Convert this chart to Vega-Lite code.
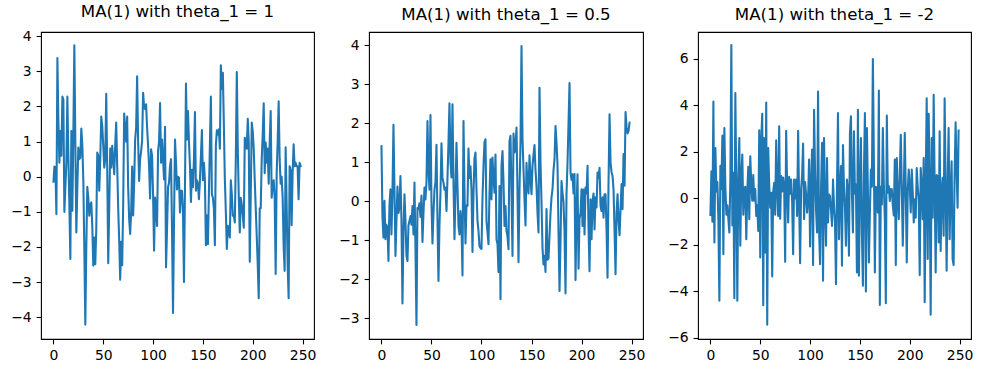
{
"$schema":"https://vega.github.io/schema/vega-lite/v6.json",
"background":"white",
"padding":{"left":10,"top":3,"right":5,"bottom":5},
"config":{
"view":{"stroke":"black","strokeWidth":1.1},
"axis":{"domain":false,"grid":false,"ticks":true,"tickColor":"black","tickSize":4.9,"tickWidth":1.1,"labelFont":"DejaVu Sans","labelFontSize":13.9,"labelColor":"black","labelPadding":4.9,"labelFlush":false,"labelOverlap":false,"title":null},
"title":{"font":"DejaVu Sans","fontSize":16.67,"fontWeight":"normal","color":"black","baseline":"alphabetic","offset":8.3,"anchor":"middle"},
"concat":{"spacing":21}
},
"datasets":{
"p1":[{"t":0,"y":-0.17},{"t":1,"y":0.29},{"t":2,"y":0.26},{"t":3,"y":-1.07},{"t":4,"y":3.38},{"t":5,"y":1.6},{"t":6,"y":0.4},{"t":7,"y":1.3},{"t":8,"y":0.6},{"t":9,"y":2.28},
{"t":10,"y":2.2},{"t":11,"y":-1.0},{"t":12,"y":-0.3},{"t":13,"y":0.4},{"t":14,"y":2.28},{"t":15,"y":0.6},{"t":16,"y":-0.8},{"t":17,"y":-2.34},{"t":18,"y":1.3},{"t":19,"y":-0.97},
{"t":20,"y":1.2},{"t":21,"y":3.74},{"t":22,"y":1.0},{"t":23,"y":-1.59},{"t":24,"y":-0.3},{"t":25,"y":0.83},{"t":26,"y":0.5},{"t":27,"y":0.54},{"t":28,"y":1.37},{"t":29,"y":0.9},
{"t":30,"y":-0.08},{"t":31,"y":-2.0},{"t":32,"y":-4.21},{"t":33,"y":-2.0},{"t":34,"y":-0.29},{"t":35,"y":-0.6},{"t":36,"y":-1.11},{"t":37,"y":-0.8},{"t":38,"y":-0.73},{"t":39,"y":-1.4},
{"t":40,"y":-2.53},{"t":41,"y":-1.73},{"t":42,"y":-2.49},{"t":43,"y":-1.5},{"t":44,"y":0.69},{"t":45,"y":0.6},{"t":46,"y":-0.4},{"t":47,"y":0.5},{"t":48,"y":1.71},{"t":49,"y":1.44},
{"t":50,"y":0.9},{"t":51,"y":0.26},{"t":52,"y":0.5},{"t":53,"y":2.36},{"t":54,"y":0.2},{"t":55,"y":-2.46},{"t":56,"y":-0.9},{"t":57,"y":0.8},{"t":58,"y":0.26},{"t":59,"y":0.88},
{"t":60,"y":0.5},{"t":61,"y":0.07},{"t":62,"y":0.9},{"t":63,"y":1.54},{"t":64,"y":0.3},{"t":65,"y":-0.9},{"t":66,"y":-1.8},{"t":67,"y":-2.93},{"t":68,"y":-1.85},{"t":69,"y":-2.52},
{"t":70,"y":-0.8},{"t":71,"y":1.8},{"t":72,"y":1.4},{"t":73,"y":1.0},{"t":74,"y":1.71},{"t":75,"y":-0.3},{"t":76,"y":-1.2},{"t":77,"y":-1.63},{"t":78,"y":-1.0},{"t":79,"y":0.29},
{"t":80,"y":-1.1},{"t":81,"y":-0.2},{"t":82,"y":1.06},{"t":83,"y":1.4},{"t":84,"y":2.86},{"t":85,"y":1.0},{"t":86,"y":-0.12},{"t":87,"y":0.5},{"t":88,"y":0.73},{"t":89,"y":1.02},
{"t":90,"y":2.39},{"t":91,"y":2.0},{"t":92,"y":1.92},{"t":93,"y":2.06},{"t":94,"y":1.4},{"t":95,"y":0.88},{"t":96,"y":0.3},{"t":97,"y":-0.62},{"t":98,"y":0.78},{"t":99,"y":0.6},
{"t":100,"y":-0.53},{"t":101,"y":-2.11},{"t":102,"y":-0.59},{"t":103,"y":-0.9},{"t":104,"y":-1.4},{"t":105,"y":0.73},{"t":106,"y":1.0},{"t":107,"y":2.1},{"t":108,"y":0.4},{"t":109,"y":1.06},
{"t":110,"y":0.5},{"t":111,"y":-0.08},{"t":112,"y":1.42},{"t":113,"y":-2.58},{"t":114,"y":-1.5},{"t":115,"y":-0.3},{"t":116,"y":-0.17},{"t":117,"y":0.3},{"t":118,"y":0.5},{"t":119,"y":-1.5},
{"t":120,"y":-3.88},{"t":121,"y":-1.3},{"t":122,"y":1.06},{"t":123,"y":0.4},{"t":124,"y":-0.36},{"t":125,"y":0.0},{"t":126,"y":-0.03},{"t":127,"y":-1.02},{"t":128,"y":-0.4},{"t":129,"y":-0.4},
{"t":130,"y":-1.0},{"t":131,"y":-3.0},{"t":132,"y":-0.3},{"t":133,"y":2.65},{"t":134,"y":1.06},{"t":135,"y":1.87},{"t":136,"y":1.0},{"t":137,"y":0.3},{"t":138,"y":-0.72},{"t":139,"y":0.2},
{"t":140,"y":-0.3},{"t":141,"y":0.5},{"t":142,"y":1.84},{"t":143,"y":-0.4},{"t":144,"y":-0.1},{"t":145,"y":-0.2},{"t":146,"y":-0.64},{"t":147,"y":-0.1},{"t":148,"y":0.6},{"t":149,"y":1.33},
{"t":150,"y":-0.1},{"t":151,"y":0.4},{"t":152,"y":-0.1},{"t":153,"y":-1.95},{"t":154,"y":-1.1},{"t":155,"y":-1.92},{"t":156,"y":-0.5},{"t":157,"y":0.9},{"t":158,"y":2.28},{"t":159,"y":-0.5},
{"t":160,"y":-0.6},{"t":161,"y":-0.9},{"t":162,"y":-1.95},{"t":163,"y":0.9},{"t":164,"y":1.32},{"t":165,"y":1.2},{"t":166,"y":1.35},{"t":167,"y":0.8},{"t":168,"y":3.17},{"t":169,"y":2.5},
{"t":170,"y":2.96},{"t":171,"y":1.5},{"t":172,"y":-0.07},{"t":173,"y":-1.0},{"t":174,"y":-2.06},{"t":175,"y":-1.4},{"t":176,"y":-1.5},{"t":177,"y":-1.73},{"t":178,"y":-0.1},{"t":179,"y":-0.5},
{"t":180,"y":-1.11},{"t":181,"y":-1.1},{"t":182,"y":-1.3},{"t":183,"y":0.5},{"t":184,"y":2.98},{"t":185,"y":0.8},{"t":186,"y":-0.6},{"t":187,"y":-1.59},{"t":188,"y":-0.6},{"t":189,"y":-0.8},
{"t":190,"y":-1.1},{"t":191,"y":-1.45},{"t":192,"y":1.11},{"t":193,"y":0.97},{"t":194,"y":0.8},{"t":195,"y":1.65},{"t":196,"y":1.0},{"t":197,"y":-2.42},{"t":198,"y":-0.5},{"t":199,"y":1.54},
{"t":200,"y":1.3},{"t":201,"y":0.8},{"t":202,"y":-0.1},{"t":203,"y":-0.9},{"t":204,"y":-1.7},{"t":205,"y":-2.5},{"t":206,"y":-3.46},{"t":207,"y":-0.9},{"t":208,"y":-0.9},{"t":209,"y":0.5},
{"t":210,"y":1.2},{"t":211,"y":2.09},{"t":212,"y":0.1},{"t":213,"y":0.97},{"t":214,"y":0.4},{"t":215,"y":0.8},{"t":216,"y":-0.2},{"t":217,"y":1.0},{"t":218,"y":1.87},{"t":219,"y":-0.6},
{"t":220,"y":-0.2},{"t":221,"y":-0.1},{"t":222,"y":-0.6},{"t":223,"y":-2.77},{"t":224,"y":0.1},{"t":225,"y":1.0},{"t":226,"y":2.15},{"t":227,"y":0.5},{"t":228,"y":-0.2},{"t":229,"y":0.0},
{"t":230,"y":-0.6},{"t":231,"y":-2.0},{"t":232,"y":-2.68},{"t":233,"y":0.84},{"t":234,"y":-0.8},{"t":235,"y":-2.5},{"t":236,"y":-3.46},{"t":237,"y":0.3},{"t":238,"y":0.2},{"t":239,"y":-1.38},
{"t":240,"y":0.1},{"t":241,"y":0.92},{"t":242,"y":0.3},{"t":243,"y":0.4},{"t":244,"y":0.3},{"t":245,"y":0.3},{"t":246,"y":-0.64},{"t":247,"y":0.4},{"t":248,"y":0.3},{"t":249,"y":0.31}],
"p2":[{"t":0,"y":1.44},{"t":1,"y":-0.38},{"t":2,"y":-0.93},{"t":3,"y":0.01},{"t":4,"y":-0.97},{"t":5,"y":-0.6},{"t":6,"y":-0.68},{"t":7,"y":-1.53},{"t":8,"y":-0.1},{"t":9,"y":0.31},
{"t":10,"y":-0.85},{"t":11,"y":0.2},{"t":12,"y":1.96},{"t":13,"y":0.3},{"t":14,"y":-1.4},{"t":15,"y":-0.5},{"t":16,"y":0.38},{"t":17,"y":-0.3},{"t":18,"y":-0.17},{"t":19,"y":0.65},
{"t":20,"y":-0.5},{"t":21,"y":-2.62},{"t":22,"y":-0.8},{"t":23,"y":0.18},{"t":24,"y":-0.5},{"t":25,"y":-1.4},{"t":26,"y":-1.53},{"t":27,"y":-0.62},{"t":28,"y":-0.5},{"t":29,"y":-0.38},
{"t":30,"y":-0.6},{"t":31,"y":-0.12},{"t":32,"y":-0.85},{"t":33,"y":0.48},{"t":34,"y":-1.2},{"t":35,"y":-3.17},{"t":36,"y":-0.17},{"t":37,"y":-0.2},{"t":38,"y":-0.05},{"t":39,"y":-0.4},
{"t":40,"y":0.15},{"t":41,"y":-1.04},{"t":42,"y":-0.3},{"t":43,"y":0.35},{"t":44,"y":0.05},{"t":45,"y":0.5},{"t":46,"y":2.06},{"t":47,"y":0.8},{"t":48,"y":0.3},{"t":49,"y":2.21},
{"t":50,"y":-0.02},{"t":51,"y":-1.08},{"t":52,"y":-0.3},{"t":53,"y":0.29},{"t":54,"y":0.5},{"t":55,"y":1.45},{"t":56,"y":-0.5},{"t":57,"y":-2.04},{"t":58,"y":-0.6},{"t":59,"y":0.22},
{"t":60,"y":1.49},{"t":61,"y":0.6},{"t":62,"y":0.48},{"t":63,"y":0.3},{"t":64,"y":0.35},{"t":65,"y":-0.25},{"t":66,"y":0.6},{"t":67,"y":1.5},{"t":68,"y":2.51},{"t":69,"y":1.0},
{"t":70,"y":0.61},{"t":71,"y":2.49},{"t":72,"y":0.5},{"t":73,"y":-0.97},{"t":74,"y":0.2},{"t":75,"y":1.5},{"t":76,"y":0.4},{"t":77,"y":-0.63},{"t":78,"y":-0.85},{"t":79,"y":-0.25},
{"t":80,"y":-0.6},{"t":81,"y":-1.9},{"t":82,"y":2.06},{"t":83,"y":0.3},{"t":84,"y":-1.08},{"t":85,"y":-0.1},{"t":86,"y":-0.12},{"t":87,"y":1.35},{"t":88,"y":0.6},{"t":89,"y":0.9},
{"t":90,"y":0.3},{"t":91,"y":-1.3},{"t":92,"y":0.2},{"t":93,"y":1.1},{"t":94,"y":1.25},{"t":95,"y":0.3},{"t":96,"y":-0.5},{"t":97,"y":-0.76},{"t":98,"y":-1.15},{"t":99,"y":-1.2},
{"t":100,"y":-1.22},{"t":101,"y":0.09},{"t":102,"y":0.9},{"t":103,"y":1.52},{"t":104,"y":1.59},{"t":105,"y":-0.5},{"t":106,"y":-0.8},{"t":107,"y":-1.1},{"t":108,"y":0.2},{"t":109,"y":1.08},
{"t":110,"y":0.05},{"t":111,"y":1.12},{"t":112,"y":0.6},{"t":113,"y":0.22},{"t":114,"y":1.2},{"t":115,"y":-0.98},{"t":116,"y":-1.1},{"t":117,"y":-1.81},{"t":118,"y":0.39},{"t":119,"y":-2.51},
{"t":120,"y":0.9},{"t":121,"y":1.29},{"t":122,"y":0.5},{"t":123,"y":-0.63},{"t":124,"y":-0.12},{"t":125,"y":-0.76},{"t":126,"y":-0.9},{"t":127,"y":-1.23},{"t":128,"y":1.55},{"t":129,"y":1.68},
{"t":130,"y":0.2},{"t":131,"y":-1.4},{"t":132,"y":1.74},{"t":133,"y":1.25},{"t":134,"y":1.4},{"t":135,"y":1.89},{"t":136,"y":0.2},{"t":137,"y":-1.56},{"t":138,"y":0.31},{"t":139,"y":1.5},
{"t":140,"y":3.98},{"t":141,"y":1.6},{"t":142,"y":0.82},{"t":143,"y":0.05},{"t":144,"y":-0.62},{"t":145,"y":0.99},{"t":146,"y":0.39},{"t":147,"y":0.2},{"t":148,"y":1.18},{"t":149,"y":0.6},
{"t":150,"y":0.18},{"t":151,"y":0.91},{"t":152,"y":1.2},{"t":153,"y":1.44},{"t":154,"y":0.8},{"t":155,"y":0.39},{"t":156,"y":-0.3},{"t":157,"y":-0.8},{"t":158,"y":2.91},{"t":159,"y":1.0},
{"t":160,"y":-0.03},{"t":161,"y":-1.2},{"t":162,"y":-1.62},{"t":163,"y":-1.4},{"t":164,"y":-1.81},{"t":165,"y":-0.2},{"t":166,"y":-1.5},{"t":167,"y":-1.47},{"t":168,"y":-0.87},{"t":169,"y":-0.3},
{"t":170,"y":0.1},{"t":171,"y":0.31},{"t":172,"y":0.8},{"t":173,"y":1.08},{"t":174,"y":1.93},{"t":175,"y":1.5},{"t":176,"y":0.93},{"t":177,"y":-0.8},{"t":178,"y":-2.3},{"t":179,"y":-1.0},
{"t":180,"y":0.52},{"t":181,"y":0.22},{"t":182,"y":-0.03},{"t":183,"y":-0.8},{"t":184,"y":-2.36},{"t":185,"y":0.2},{"t":186,"y":0.99},{"t":187,"y":2.0},{"t":188,"y":3.03},{"t":189,"y":0.74},
{"t":190,"y":0.55},{"t":191,"y":0.69},{"t":192,"y":0.2},{"t":193,"y":0.7},{"t":194,"y":-2.02},{"t":195,"y":-0.2},{"t":196,"y":0.69},{"t":197,"y":-1.73},{"t":198,"y":-0.44},{"t":199,"y":-0.3},
{"t":200,"y":0.31},{"t":201,"y":-0.63},{"t":202,"y":0.3},{"t":203,"y":-0.85},{"t":204,"y":0.35},{"t":205,"y":0.2},{"t":206,"y":0.91},{"t":207,"y":-0.7},{"t":208,"y":-1.79},{"t":209,"y":0.05},
{"t":210,"y":-0.97},{"t":211,"y":0.0},{"t":212,"y":0.2},{"t":213,"y":-0.72},{"t":214,"y":0.1},{"t":215,"y":-0.16},{"t":216,"y":0.74},{"t":217,"y":0.6},{"t":218,"y":0.86},{"t":219,"y":-0.12},
{"t":220,"y":-0.25},{"t":221,"y":0.1},{"t":222,"y":-0.42},{"t":223,"y":0.18},{"t":224,"y":0.18},{"t":225,"y":-0.72},{"t":226,"y":-1.96},{"t":227,"y":0.5},{"t":228,"y":2.23},{"t":229,"y":1.0},
{"t":230,"y":0.74},{"t":231,"y":0.65},{"t":232,"y":0.3},{"t":233,"y":-0.76},{"t":234,"y":-1.87},{"t":235,"y":-0.3},{"t":236,"y":0.18},{"t":237,"y":-0.5},{"t":238,"y":-0.87},{"t":239,"y":-0.2},
{"t":240,"y":0.44},{"t":241,"y":-0.2},{"t":242,"y":1.21},{"t":243,"y":0.4},{"t":244,"y":2.29},{"t":245,"y":1.9},{"t":246,"y":1.74},{"t":247,"y":1.8},{"t":248,"y":2.02},{"t":249,"y":2.02}],
"p3":[{"t":0,"y":-0.76},{"t":1,"y":1.17},{"t":2,"y":-1.0},{"t":3,"y":4.17},{"t":4,"y":-1.9},{"t":5,"y":2.17},{"t":6,"y":0.3},{"t":7,"y":0.7},{"t":8,"y":-0.9},{"t":9,"y":-4.4},
{"t":10,"y":1.4},{"t":11,"y":0.4},{"t":12,"y":2.7},{"t":13,"y":-2.4},{"t":14,"y":3.03},{"t":15,"y":0.5},{"t":16,"y":-0.7},{"t":17,"y":-0.3},{"t":18,"y":-0.87},{"t":19,"y":-1.47},
{"t":20,"y":0.8},{"t":21,"y":6.6},{"t":22,"y":-1.16},{"t":23,"y":1.1},{"t":24,"y":-4.3},{"t":25,"y":4.53},{"t":26,"y":0.5},{"t":27,"y":-4.4},{"t":28,"y":0.8},{"t":29,"y":2.6},
{"t":30,"y":-2.04},{"t":31,"y":1.0},{"t":32,"y":1.89},{"t":33,"y":-0.7},{"t":34,"y":0.4},{"t":35,"y":0.5},{"t":36,"y":-1.76},{"t":37,"y":0.3},{"t":38,"y":1.36},{"t":39,"y":-0.9},
{"t":40,"y":1.81},{"t":41,"y":0.6},{"t":42,"y":-0.1},{"t":43,"y":1.0},{"t":44,"y":-0.1},{"t":45,"y":0.4},{"t":46,"y":-0.76},{"t":47,"y":-0.3},{"t":48,"y":-1.4},{"t":49,"y":2.93},
{"t":50,"y":-2.54},{"t":51,"y":2.5},{"t":52,"y":3.64},{"t":53,"y":-4.6},{"t":54,"y":2.6},{"t":55,"y":-2.33},{"t":56,"y":4.13},{"t":57,"y":-5.44},{"t":58,"y":2.17},{"t":59,"y":0.6},
{"t":60,"y":-0.4},{"t":61,"y":0.24},{"t":62,"y":-3.36},{"t":63,"y":0.3},{"t":64,"y":0.67},{"t":65,"y":-0.7},{"t":66,"y":2.5},{"t":67,"y":0.4},{"t":68,"y":-0.76},{"t":69,"y":3.1},
{"t":70,"y":-0.87},{"t":71,"y":0.96},{"t":72,"y":0.3},{"t":73,"y":0.9},{"t":74,"y":0.55},{"t":75,"y":-2.73},{"t":76,"y":2.91},{"t":77,"y":0.5},{"t":78,"y":-1.04},{"t":79,"y":0.93},
{"t":80,"y":0.2},{"t":81,"y":0.81},{"t":82,"y":-0.1},{"t":83,"y":-2.4},{"t":84,"y":0.81},{"t":85,"y":0.0},{"t":86,"y":0.81},{"t":87,"y":-0.76},{"t":88,"y":2.91},{"t":89,"y":-0.04},
{"t":90,"y":-2.79},{"t":91,"y":0.4},{"t":92,"y":1.0},{"t":93,"y":2.36},{"t":94,"y":-0.9},{"t":95,"y":0.7},{"t":96,"y":0.2},{"t":97,"y":-0.61},{"t":98,"y":-0.04},{"t":99,"y":1.67},
{"t":100,"y":-2.07},{"t":101,"y":0.6},{"t":102,"y":2.1},{"t":103,"y":-2.87},{"t":104,"y":3.81},{"t":105,"y":1.1},{"t":106,"y":-0.5},{"t":107,"y":-1.47},{"t":108,"y":4.6},{"t":109,"y":-1.33},
{"t":110,"y":-2.83},{"t":111,"y":0.4},{"t":112,"y":2.39},{"t":113,"y":-3.54},{"t":114,"y":2.6},{"t":115,"y":-0.3},{"t":116,"y":-2.04},{"t":117,"y":1.74},{"t":118,"y":-1.04},{"t":119,"y":0.17},
{"t":120,"y":0.1},{"t":121,"y":-0.5},{"t":122,"y":-1.19},{"t":123,"y":0.81},{"t":124,"y":-0.3},{"t":125,"y":-1.04},{"t":126,"y":-3.69},{"t":127,"y":0.5},{"t":128,"y":3.67},{"t":129,"y":-1.76},
{"t":130,"y":0.4},{"t":131,"y":1.39},{"t":132,"y":-2.9},{"t":133,"y":2.3},{"t":134,"y":0.5},{"t":135,"y":-0.4},{"t":136,"y":-2.04},{"t":137,"y":0.81},{"t":138,"y":0.3},{"t":139,"y":-2.47},
{"t":140,"y":2.81},{"t":141,"y":3.53},{"t":142,"y":0.2},{"t":143,"y":-1.47},{"t":144,"y":2.89},{"t":145,"y":0.2},{"t":146,"y":0.6},{"t":147,"y":-3.19},{"t":148,"y":3.81},{"t":149,"y":-3.33},
{"t":150,"y":0.5},{"t":151,"y":2.6},{"t":152,"y":-1.47},{"t":153,"y":-3.76},{"t":154,"y":1.0},{"t":155,"y":3.67},{"t":156,"y":-4.01},{"t":157,"y":3.03},{"t":158,"y":0.4},{"t":159,"y":-2.76},
{"t":160,"y":-0.61},{"t":161,"y":1.24},{"t":162,"y":0.5},{"t":163,"y":6.0},{"t":164,"y":1.67},{"t":165,"y":-3.19},{"t":166,"y":0.5},{"t":167,"y":0.24},{"t":168,"y":-0.61},{"t":169,"y":4.64},
{"t":170,"y":-4.59},{"t":171,"y":0.5},{"t":172,"y":-0.26},{"t":173,"y":3.03},{"t":174,"y":0.6},{"t":175,"y":-0.9},{"t":176,"y":-4.51},{"t":177,"y":3.56},{"t":178,"y":0.24},{"t":179,"y":0.53},
{"t":180,"y":-0.11},{"t":181,"y":0.4},{"t":182,"y":0.39},{"t":183,"y":-0.3},{"t":184,"y":-0.73},{"t":185,"y":1.67},{"t":186,"y":-2.87},{"t":187,"y":1.74},{"t":188,"y":0.2},{"t":189,"y":-0.9},
{"t":190,"y":1.03},{"t":191,"y":2.74},{"t":192,"y":0.5},{"t":193,"y":-2.04},{"t":194,"y":0.24},{"t":195,"y":2.81},{"t":196,"y":0.3},{"t":197,"y":-2.76},{"t":198,"y":0.39},{"t":199,"y":1.24},
{"t":200,"y":0.5},{"t":201,"y":-0.61},{"t":202,"y":1.24},{"t":203,"y":0.3},{"t":204,"y":-1.04},{"t":205,"y":-0.04},{"t":206,"y":-0.83},{"t":207,"y":1.31},{"t":208,"y":0.5},{"t":209,"y":-0.04},
{"t":210,"y":-3.3},{"t":211,"y":1.31},{"t":212,"y":0.5},{"t":213,"y":-0.9},{"t":214,"y":1.74},{"t":215,"y":-4.47},{"t":216,"y":0.5},{"t":217,"y":4.31},{"t":218,"y":-2.61},{"t":219,"y":3.64},
{"t":220,"y":0.4},{"t":221,"y":-5.01},{"t":222,"y":2.6},{"t":223,"y":-0.83},{"t":224,"y":4.46},{"t":225,"y":0.5},{"t":226,"y":-3.19},{"t":227,"y":1.0},{"t":228,"y":0.96},{"t":229,"y":-1.9},
{"t":230,"y":2.89},{"t":231,"y":-2.26},{"t":232,"y":0.3},{"t":233,"y":0.89},{"t":234,"y":-1.61},{"t":235,"y":4.31},{"t":236,"y":0.5},{"t":237,"y":-3.11},{"t":238,"y":0.67},{"t":239,"y":3.03},
{"t":240,"y":-1.76},{"t":241,"y":0.3},{"t":242,"y":1.6},{"t":243,"y":-2.61},{"t":244,"y":-2.87},{"t":245,"y":1.0},{"t":246,"y":3.27},{"t":247,"y":1.2},{"t":248,"y":-0.4},{"t":249,"y":2.96}]
},
"hconcat":[
{"title":"MA(1) with theta_1 = 1","width":273,"height":307,"data":{"name":"p1"},
"mark":{"type":"line","color":"#1f77b4","strokeWidth":2.08,"strokeJoin":"round"},
"encoding":{"x":{"field":"t","type":"quantitative","scale":{"domain":[-12.45,261.45],"nice":false,"zero":false},"axis":{"values":[0,50,100,150,200,250]}},
"y":{"field":"y","type":"quantitative","scale":{"domain":[-4.62,4.12],"nice":false,"zero":false},"axis":{"values":[-4,-3,-2,-1,0,1,2,3,4]}}}},
{"title":"MA(1) with theta_1 = 0.5","width":274,"height":307,"data":{"name":"p2"},
"mark":{"type":"line","color":"#1f77b4","strokeWidth":2.08,"strokeJoin":"round"},
"encoding":{"x":{"field":"t","type":"quantitative","scale":{"domain":[-12.45,261.45],"nice":false,"zero":false},"axis":{"values":[0,50,100,150,200,250]}},
"y":{"field":"y","type":"quantitative","scale":{"domain":[-3.53,4.34],"nice":false,"zero":false},"axis":{"values":[-3,-2,-1,0,1,2,3,4]}}}},
{"title":"MA(1) with theta_1 = -2","width":273,"height":307,"data":{"name":"p3"},
"mark":{"type":"line","color":"#1f77b4","strokeWidth":2.08,"strokeJoin":"round"},
"encoding":{"x":{"field":"t","type":"quantitative","scale":{"domain":[-12.45,261.45],"nice":false,"zero":false},"axis":{"values":[0,50,100,150,200,250]}},
"y":{"field":"y","type":"quantitative","scale":{"domain":[-6.05,7.16],"nice":false,"zero":false},"axis":{"values":[-6,-4,-2,0,2,4,6]}}}}
]
}
